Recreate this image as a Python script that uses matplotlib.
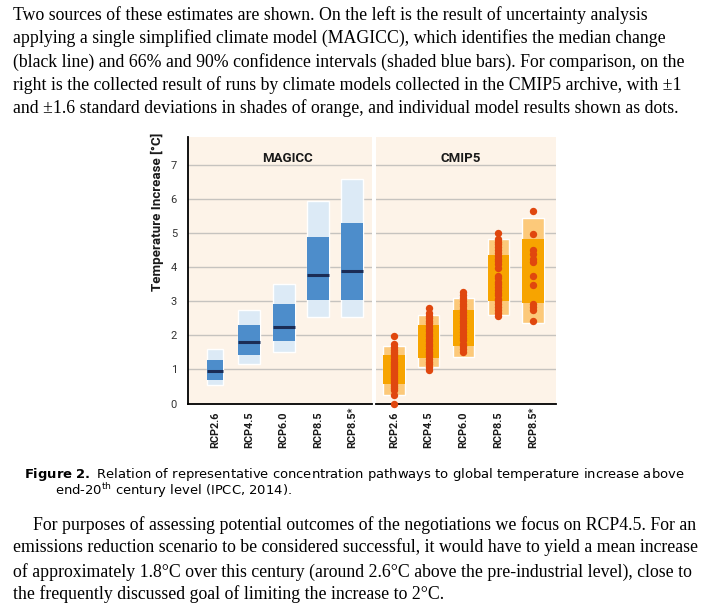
import numpy as np
import matplotlib
matplotlib.use("Agg")
import matplotlib.pyplot as plt
from matplotlib.patches import Rectangle

# Scenario names (same for both panels)
scenarios = ["RCP2.6", "RCP4.5", "RCP6.0", "RCP8.5", "RCP8.5*"]

# MAGICC: 90% range, 66% range and median (deg C)
magicc_lo90 = [0.53, 1.16, 1.51, 2.53, 2.53]
magicc_hi90 = [1.61, 2.75, 3.52, 5.95, 6.59]
magicc_lo66 = [0.70, 1.42, 1.82, 3.03, 3.05]
magicc_hi66 = [1.27, 2.29, 2.92, 4.88, 5.29]
magicc_med = [0.95, 1.80, 2.25, 3.76, 3.89]
magicc_width = [0.47, 0.64, 0.64, 0.64, 0.64]

# CMIP5: +-1.6 sd and +-1 sd ranges
cmip_lo16 = [0.26, 1.06, 1.37, 2.59, 2.36]
cmip_hi16 = [1.68, 2.59, 3.09, 4.82, 5.44]
cmip_lo1 = [0.56, 1.35, 1.70, 3.01, 2.95]
cmip_hi1 = [1.41, 2.29, 2.75, 4.37, 4.83]

# CMIP5 individual model results
cmip_rcp26 = [1.97, 1.74, 1.66, 1.58, 1.52, 1.45, 1.38, 1.30, 1.22, 1.15, 1.10,
              1.05, 0.98, 0.93, 0.88, 0.82, 0.76, 0.70, 0.64, 0.58, 0.52, 0.46,
              0.41, 0.26, 0.0]
cmip_rcp45 = [2.79, 2.66, 2.58, 2.50, 2.42, 2.35, 2.28, 2.20, 2.12, 2.05, 1.98,
              1.90, 1.82, 1.75, 1.68, 1.60, 1.52, 1.45, 1.38, 1.30, 1.22, 1.15,
              1.07, 0.99]
cmip_rcp60 = [3.27, 3.18, 3.10, 3.02, 2.93, 2.85, 2.76, 2.68, 2.60, 2.52, 2.43,
              2.35, 2.27, 2.18, 2.10, 2.02, 1.93, 1.85, 1.76, 1.68, 1.59, 1.50]
cmip_rcp85 = [5.00, 4.83, 4.75, 4.67, 4.58, 4.50, 4.42, 4.34, 4.25, 4.17, 4.08,
              3.99, 3.75, 3.67, 3.58, 3.50, 3.42, 3.33, 3.25, 3.17, 3.08, 3.00,
              2.92, 2.83, 2.75, 2.67, 2.58]
cmip_rcp85s = [5.66, 4.96, 4.50, 4.38, 4.25, 4.16, 3.75, 3.47, 2.93, 2.83, 2.74,
               2.43]
cmip_models = [cmip_rcp26, cmip_rcp45, cmip_rcp60, cmip_rcp85, cmip_rcp85s]

yticks = [0, 1, 2, 3, 4, 5, 6, 7]

# Text around the figure
top_lines = [
    "Two sources of these estimates are shown. On the left is the result of uncertainty analysis",
    "applying a single simplified climate model (MAGICC), which identifies the median change",
    "(black line) and 66% and 90% confidence intervals (shaded blue bars). For comparison, on the",
    "right is the collected result of runs by climate models collected in the CMIP5 archive, with \u00b11",
    "and \u00b11.6 standard deviations in shades of orange, and individual model results shown as dots.",
]
caption1 = r"$\bf{Figure\ 2.}$ Relation of representative concentration pathways to global temperature increase above"
caption2 = r"end-20$^{\rm th}$ century level (IPCC, 2014)."
bottom_lines = [
    "For purposes of assessing potential outcomes of the negotiations we focus on RCP4.5. For an",
    "emissions reduction scenario to be considered successful, it would have to yield a mean increase",
    "of approximately 1.8\u00b0C over this century (around 2.6\u00b0C above the pre-industrial level), close to",
    "the frequently discussed goal of limiting the increase to 2\u00b0C.",
]

# Colours
bg = "#FDF3E8"
grid_c = "#C6C3BF"
blue_light = "#DCEAF6"
blue_dark = "#4D8DCB"
navy = "#1B2C55"
orange_light = "#FCC97A"
orange_dark = "#F7A400"
dot_c = "#E0470E"

narrow = ["Liberation Sans Narrow", "Roboto", "DejaVu Sans"]

W, H = 709, 606
fig = plt.figure(figsize=(W / 100, H / 100), dpi=100)


def fx(x):
    return x / W


def fy(y):
    return 1 - y / H


top_px, base_px = 136.7, 403.5
ax1 = fig.add_axes([fx(188.5), fy(base_px), (372 - 188.5) / W, (base_px - top_px) / H])
ax2 = fig.add_axes([fx(376), fy(base_px), (555.5 - 376) / W, (base_px - top_px) / H])

pos = np.arange(len(scenarios))

for ax in (ax1, ax2):
    ax.set_facecolor(bg)
    ax.set_ylim(0, 7.83)
    for v in yticks[1:]:
        ax.axhline(v, color=grid_c, lw=1.0, zorder=1)
    for s in ("top", "right"):
        ax.spines[s].set_visible(False)
    ax.spines["bottom"].set_linewidth(1.3)
    ax.spines["bottom"].set_color("black")
    ax.set_xticks(pos)
    ax.set_xticklabels(scenarios, rotation=90, family=narrow,
                       fontsize=7.8, fontweight="bold", color="#1a1a1a")
    ax.tick_params(axis="x", length=0, pad=32)
    for lab in ax.get_xticklabels():
        lab.set_va("bottom")

ax1.set_xlim(-0.773, 4.577)
ax2.set_xlim(-0.518, 4.65)

ax1.spines["left"].set_linewidth(1.3)
ax1.spines["left"].set_color("black")
ax1.set_yticks(yticks)
ax1.set_yticklabels([str(v) for v in yticks], family=narrow, fontsize=8,
                    color="#333333")
ax1.tick_params(axis="y", length=0, pad=8.3)
ax1.set_ylabel("Temperature Increase [\u00b0C]", family=narrow, fontsize=9.6,
               fontweight="bold", color="#1a1a1a")
ax1.yaxis.set_label_coords(-0.134, 0.72)

ax2.spines["left"].set_visible(False)
ax2.set_yticks([])

# MAGICC bars
for i in range(len(scenarios)):
    w = magicc_width[i]
    ax1.add_patch(Rectangle((pos[i] - w / 2, magicc_lo90[i]), w,
                            magicc_hi90[i] - magicc_lo90[i], facecolor=blue_light,
                            edgecolor="white", lw=1.0, zorder=2))
    ax1.add_patch(Rectangle((pos[i] - w / 2, magicc_lo66[i]), w,
                            magicc_hi66[i] - magicc_lo66[i], facecolor=blue_dark,
                            edgecolor="none", zorder=3))
    ax1.plot([pos[i] - w / 2, pos[i] + w / 2], [magicc_med[i]] * 2, color=navy,
             lw=2.2, solid_capstyle="butt", zorder=4)

# CMIP5 bars and dots
cw = 0.61
for i in range(len(scenarios)):
    ax2.add_patch(Rectangle((pos[i] - cw / 2, cmip_lo16[i]), cw,
                            cmip_hi16[i] - cmip_lo16[i], facecolor=orange_light,
                            edgecolor="white", lw=1.0, zorder=2))
    ax2.add_patch(Rectangle((pos[i] - cw / 2, cmip_lo1[i]), cw,
                            cmip_hi1[i] - cmip_lo1[i], facecolor=orange_dark,
                            edgecolor="none", zorder=3))
    vals = cmip_models[i]
    ax2.plot([pos[i]] * len(vals), vals, "o", color=dot_c, markersize=5.3,
             markeredgewidth=0, clip_on=False, zorder=5)

ax1.text(0.537, 0.92, "MAGICC", transform=ax1.transAxes, ha="center", va="center",
         family=narrow, fontsize=9.5, fontweight="bold", color="#1a1a1a")
ax2.text(0.474, 0.92, "CMIP5", transform=ax2.transAxes, ha="center", va="center",
         family=narrow, fontsize=9.5, fontweight="bold", color="#1a1a1a")

# Paragraph above
serif = ["Liberation Serif", "DejaVu Serif"]
top_base = [20, 43.3, 66.6, 90, 113.3]
for line, yb in zip(top_lines, top_base):
    fig.text(fx(13), fy(yb), line, family=serif, fontsize=12.75, va="baseline",
             ha="left", color="black")

# Caption
fig.text(fx(24), fy(477.7), caption1, family="DejaVu Sans", fontsize=9.45,
         va="baseline", ha="left", color="black")
fig.text(fx(55), fy(495.5), caption2, family="DejaVu Sans", fontsize=9.45,
         va="baseline", ha="left", color="black")

# Paragraph below
bot_base = [530, 552, 576.5, 599]
bot_x = [33, 12.7, 12.7, 12.7]
for line, yb, xb in zip(bottom_lines, bot_base, bot_x):
    fig.text(fx(xb), fy(yb), line, family=serif, fontsize=12.8, va="baseline",
             ha="left", color="black")

fig.savefig("out.png", dpi=100, facecolor="white")
